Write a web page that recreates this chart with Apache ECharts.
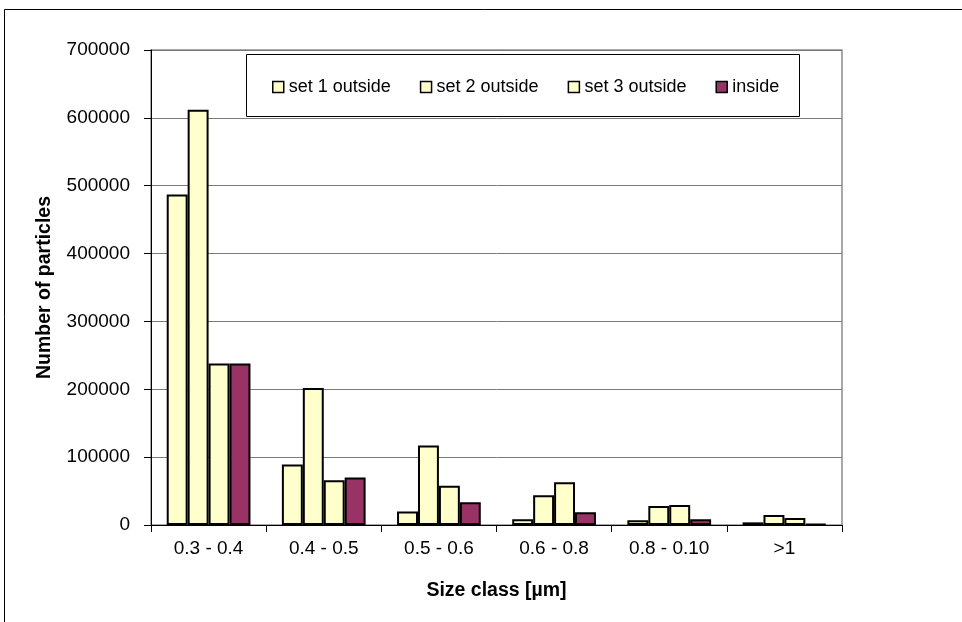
<!DOCTYPE html>
<html>
<head>
<meta charset="utf-8">
<script src="https://cdn.jsdelivr.net/npm/echarts@6/dist/echarts.min.js"></script>
<style>
  html, body { margin: 0; padding: 0; background: #fff; }
  #chart { width: 962px; height: 622px; }
</style>
</head>
<body>
<div id="chart"></div>
<script>
// Particle counts per size class
const sizeClasses = ['0.3 - 0.4', '0.4 - 0.5', '0.5 - 0.6', '0.6 - 0.8', '0.8 - 0.10', '>1'];
const set1Outside = [487000, 89000, 20000, 8300, 6900, 3900];
const set2Outside = [612000, 202000, 117000, 44000, 28000, 14700];
const set3Outside = [238000, 66000, 58000, 63000, 29500, 10300];
const inside      = [238000, 70000, 33500, 18700, 8300, 1500];
const yTicks = { min: 0, max: 700000, step: 100000 };

const FONT = 'Liberation Sans, Arial, sans-serif';
const outsideColor = '#FFFFCC';
const insideColor = '#993366';

function barSeries(name, data, color) {
  return {
    name: name,
    type: 'bar',
    data: data,
    barGap: '0%',
    barCategoryGap: '27.3%',
    itemStyle: { color: color, borderColor: '#000', borderWidth: 2 },
    emphasis: { disabled: true }
  };
}

const chart = echarts.init(document.getElementById('chart'), null, { renderer: 'canvas' });
chart.setOption({
  animation: false,
  backgroundColor: '#fff',
  textStyle: { fontFamily: FONT, color: '#000' },
  graphic: [
    // outer chart frame
    { type: 'rect', shape: { x: 4.5, y: 9.5, width: 1100, height: 800 },
      style: { fill: null, stroke: '#000', lineWidth: 1 }, z: 0 },
    // legend frame
    { type: 'rect', shape: { x: 246.5, y: 54.5, width: 553, height: 62 },
      style: { fill: '#fff', stroke: '#000', lineWidth: 1 }, z: 5 }
  ],
  legend: {
    left: 272,
    top: 78,
    padding: 0,
    itemWidth: 11,
    itemHeight: 11,
    itemGap: 29,
    icon: 'rect',
    z: 10,
    itemStyle: { borderColor: '#000', borderWidth: 1.5 },
    textStyle: { fontFamily: FONT, fontSize: 18, color: '#000' },
    data: ['set 1 outside', 'set 2 outside', 'set 3 outside', 'inside']
  },
  grid: {
    left: 151, top: 50, right: 120, bottom: 97,
    show: true, borderColor: '#8c8c8c', borderWidth: 1.5, backgroundColor: '#fff'
  },
  xAxis: {
    type: 'category',
    data: sizeClasses,
    name: 'Size class [µm]',
    nameLocation: 'middle',
    nameGap: 56,
    nameTextStyle: { fontFamily: FONT, fontSize: 19.5, fontWeight: 'bold', color: '#000' },
    axisLine: { lineStyle: { color: '#000', width: 1 } },
    axisTick: { show: true, length: 7, lineStyle: { color: '#000' } },
    axisLabel: { fontFamily: FONT, fontSize: 19, color: '#000', margin: 14 }
  },
  yAxis: {
    type: 'value',
    min: yTicks.min,
    max: yTicks.max,
    interval: yTicks.step,
    name: 'Number of particles',
    nameLocation: 'middle',
    nameGap: 96,
    nameTextStyle: { fontFamily: FONT, fontSize: 19.5, fontWeight: 'bold', color: '#000' },
    axisLine: { show: true, lineStyle: { color: '#000', width: 1 } },
    axisTick: { show: true, length: 7, lineStyle: { color: '#000' } },
    axisLabel: { fontFamily: FONT, fontSize: 19, color: '#000', margin: 21,
                 formatter: v => String(v) },
    splitLine: { show: true, lineStyle: { color: '#7a7a7a', width: 1 } }
  },
  series: [
    barSeries('set 1 outside', set1Outside, outsideColor),
    barSeries('set 2 outside', set2Outside, outsideColor),
    barSeries('set 3 outside', set3Outside, outsideColor),
    barSeries('inside', inside, insideColor)
  ]
});
</script>
</body>
</html>
